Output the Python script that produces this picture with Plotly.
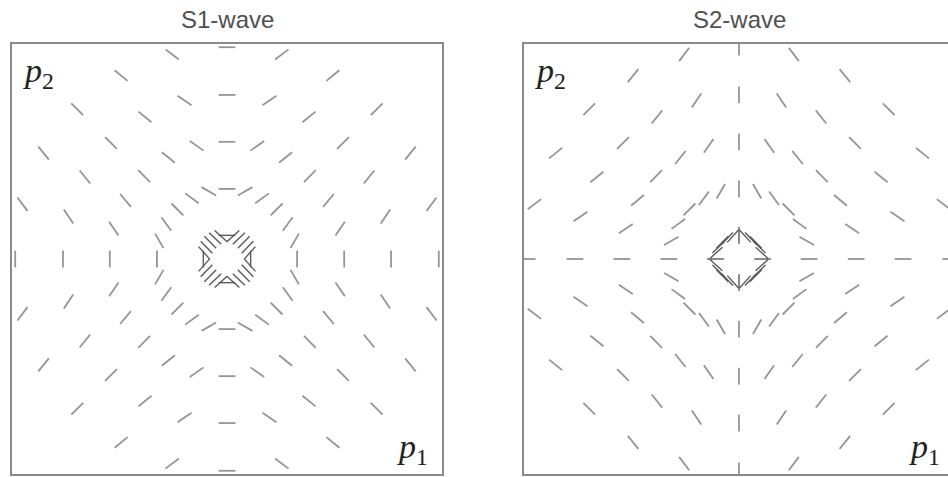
import numpy as np
import plotly.graph_objects as go

# azimuths of the sample points on every ring (degrees from the p1 axis)
azimuth_deg = [0, 15, 30, 45, 60, 75, 90, 105, 120, 135, 150, 165,
               180, 195, 210, 225, 240, 255, 270, 285, 300, 315, 330, 345]

# radii of the sampling rings in the (p1, p2) plane
ring_radius = [0.11, 0.326, 0.545, 0.763, 0.985]

# S2 polarization direction (deg) for the first quadrant,
# azimuths 0, 15, ..., 90 ; other quadrants follow by mirror symmetry
s2_ring0 = [0, -42, -44, -45, -46, -48, -90]
s2_ring1 = [0, -30, -36, -45, -54, -60, -90]
s2_ring2 = [0, -34, -40, -45, -51, -55, -90]
s2_ring3 = [0, -34, -39, -45, -51, -56, -90]
s2_ring4 = [0, -37, -39, -45, -51, -53, -90]
s2_rings = [s2_ring0, s2_ring1, s2_ring2, s2_ring3, s2_ring4]

seg_len = 0.078
px = 215.0  # pixels per unit p


def pol_angle(table, a):
    if a <= 90:
        return table[a // 15]
    if a <= 180:
        return -table[(180 - a) // 15]
    if a <= 270:
        return table[(a - 180) // 15]
    return -table[(360 - a) // 15]


def segments(rings, offset):
    xs, ys = [], []
    for r, table in rings:
        for a in azimuth_deg:
            psi = np.radians(pol_angle(table, a) + offset)
            cx, cy = r * np.cos(np.radians(a)), r * np.sin(np.radians(a))
            dx, dy = 0.5 * seg_len * np.cos(psi), 0.5 * seg_len * np.sin(psi)
            xs += [cx - dx, cx + dx, None]
            ys += [cy - dy, cy + dy, None]
    return xs, ys


inner = [(ring_radius[0], s2_rings[0])]
outer = list(zip(ring_radius[1:], s2_rings[1:]))

fig = go.Figure()
for offset, xa, ya in [(90, "x", "y"), (0, "x2", "y2")]:
    xo, yo = segments(outer, offset)
    xi, yi = segments(inner, offset)
    fig.add_trace(go.Scatter(x=xo, y=yo, mode="lines", xaxis=xa, yaxis=ya,
                             line=dict(color="#959595", width=1.8), hoverinfo="skip"))
    fig.add_trace(go.Scatter(x=xi, y=yi, mode="lines", xaxis=xa, yaxis=ya,
                             line=dict(color="#5a5a5a", width=1.4), hoverinfo="skip"))

W, H = 948, 477
top, bottom = 44, 474
left1, left2 = 12, 524
ax_common = dict(showgrid=False, zeroline=False, showticklabels=False, ticks="",
                 showline=True, linecolor="#8a8a8a", linewidth=1.6, fixedrange=True)
ydom = [(H - bottom) / H, (H - top) / H]

fig.update_layout(
    width=W, height=H, margin=dict(l=0, r=0, t=0, b=0),
    paper_bgcolor="white", plot_bgcolor="white", showlegend=False,
    xaxis=dict(domain=[left1 / W, (left1 + 2 * px) / W], range=[-1, 1], mirror=True, **ax_common),
    yaxis=dict(domain=ydom, range=[-1, 1], mirror=True, **ax_common),
    xaxis2=dict(domain=[left2 / W, 1.0], range=[-1, (W - left2) / px - 1], mirror=True,
                anchor="y2", **ax_common),
    yaxis2=dict(domain=ydom, range=[-1, 1], mirror=False, anchor="x2", **ax_common),
)

titles = [("S1-wave", left1 + px), ("S2-wave", left2 + px)]
for text, cx in titles:
    fig.add_annotation(text=text, x=cx / W, y=1 - 20 / H, xref="paper", yref="paper",
                       showarrow=False, xanchor="center", yanchor="middle",
                       font=dict(family="Liberation Sans", size=24, color="#505050"))

label_font = dict(family="Liberation Serif", size=34, color="#222222")
for lx, rx in [(left1, left1 + 2 * px), (left2, left2 + 2 * px)]:
    fig.add_annotation(text="<i>p</i><sub>2</sub>", x=(lx + 9) / W, y=1 - 50 / H,
                       xref="paper", yref="paper", showarrow=False,
                       xanchor="left", yanchor="top", font=label_font)
    fig.add_annotation(text="<i>p</i><sub>1</sub>", x=min(rx - 12, W - 6) / W, y=1 - 472 / H,
                       xref="paper", yref="paper", showarrow=False,
                       xanchor="right", yanchor="bottom", font=label_font)

fig.write_html("out.html", config={"displayModeBar": False},
               post_script="document.body.style.margin='0';")
